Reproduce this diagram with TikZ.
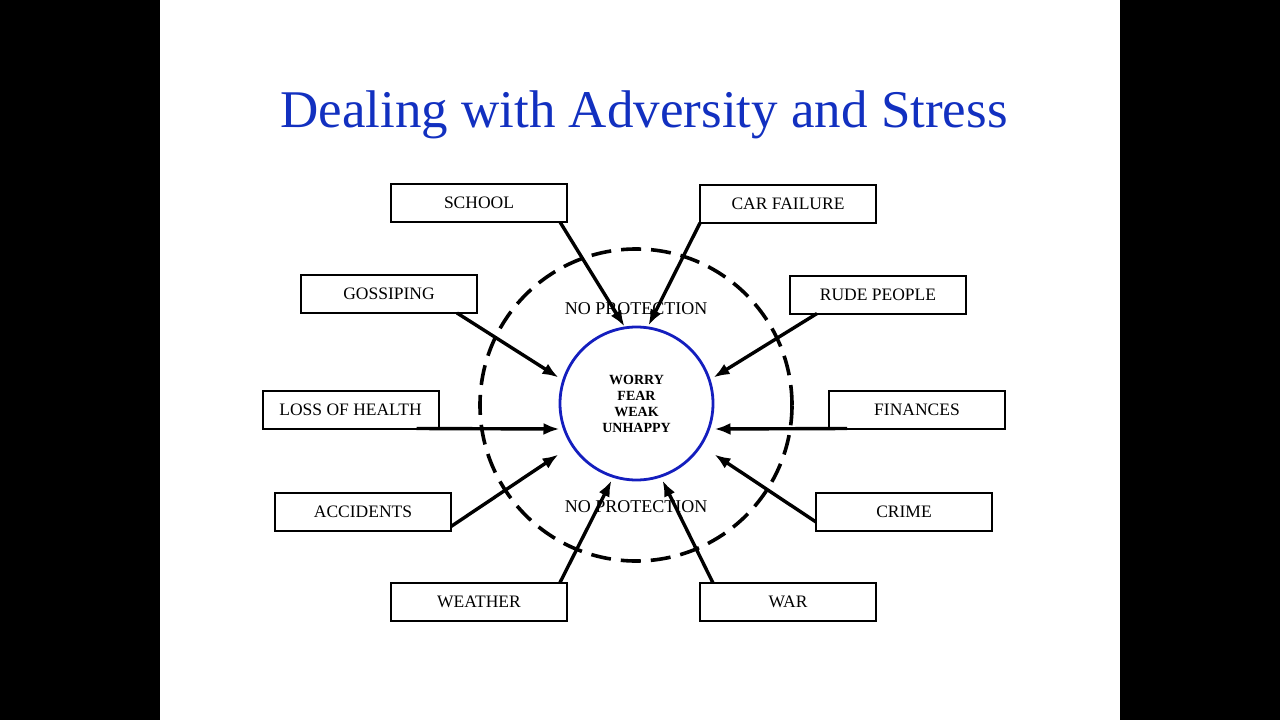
\documentclass[tikz,border=0pt]{standalone}
\usepackage{fontspec}
\setmainfont{Liberation Serif}
\usetikzlibrary{arrows.meta,calc}
\definecolor{titleblue}{RGB}{18,48,192}
\definecolor{ringblue}{RGB}{20,30,190}
\begin{document}
\begin{tikzpicture}[x=1pt,y=-1pt,
  stressbox/.style={draw=black,line width=2pt,minimum width=176pt,minimum height=38pt,inner sep=0pt,outer sep=0pt,fill=white,font=\fontsize{17.5}{20}\selectfont},
  hit/.style={line width=3.4pt,-{Latex[length=16pt,width=12pt]}},
  shieldlabel/.style={font=\fontsize{18}{20}\selectfont,inner sep=0pt}]
\useasboundingbox (0,0) rectangle (1280,720);
\fill[black] (0,0) rectangle (1280,720);
\fill[white] (160,0) rectangle (1120,720);
\node[text=titleblue,font=\fontsize{53}{60}\selectfont,inner sep=0pt] (title) at (644,115) {Dealing with Adversity and Stress};
% shield
\node[circle,draw=black,line width=3.6pt,dash pattern=on 20pt off 10pt,minimum size=312pt,inner sep=0pt,outer sep=0pt] (shield) at (636,405) {};
\node[shieldlabel] (np1) at (636,309) {NO PROTECTION};
\node[shieldlabel] (np2) at (636,507) {NO PROTECTION};
% core
\node[circle,draw=ringblue,line width=2.8pt,minimum size=153pt,inner sep=0pt,outer sep=0pt,align=center,font=\bfseries\fontsize{14}{16}\selectfont] (core) at (636.5,403.5) {WORRY\\FEAR\\WEAK\\UNHAPPY};
% boxes
\node[stressbox] (school) at (479,203) {SCHOOL};
\node[stressbox] (car) at (788,204) {CAR FAILURE};
\node[stressbox] (goss) at (389,294) {GOSSIPING};
\node[stressbox] (rude) at (878,294.5) {RUDE PEOPLE};
\node[stressbox] (loss) at (350.5,409.5) {LOSS OF HEALTH};
\node[stressbox] (fin) at (917,409.5) {FINANCES};
\node[stressbox] (acc) at (363,511.5) {ACCIDENTS};
\node[stressbox] (crime) at (904,512) {CRIME};
\node[stressbox] (weather) at (479,601.5) {WEATHER};
\node[stressbox] (war) at (788,602) {WAR};
% arrows
\draw[hit] ($(school.south east)+(-7,0)$) -- ($(core.center)+(-12,-77)$);
\draw[hit] (car.south west) -- ($(core.center)+(12,-78)$);
\draw[hit] ($(goss.south east)+(-20,0)$) -- ($(core.center)+(-78,-26)$);
\draw[hit] ($(rude.south west)+(27,0)$) -- ($(core.center)+(77,-26)$);
\draw[hit] ($(loss.south east)+(-22,0)$) -- ($(core.center)+(-77,25.5)$);
\draw[hit] ($(fin.south west)+(18,0)$) -- ($(core.center)+(78,25.5)$);
\draw[hit] ($(acc.south east)+(0,-4)$) -- ($(core.center)+(-78,51)$);
\draw[hit] ($(crime.south west)+(0,-9)$) -- ($(core.center)+(78,51)$);
\draw[hit] ($(weather.north east)+(-7,0)$) -- ($(core.center)+(-25,77)$);
\draw[hit] ($(war.north west)+(13,0)$) -- ($(core.center)+(26,77)$);
\end{tikzpicture}
\end{document}
